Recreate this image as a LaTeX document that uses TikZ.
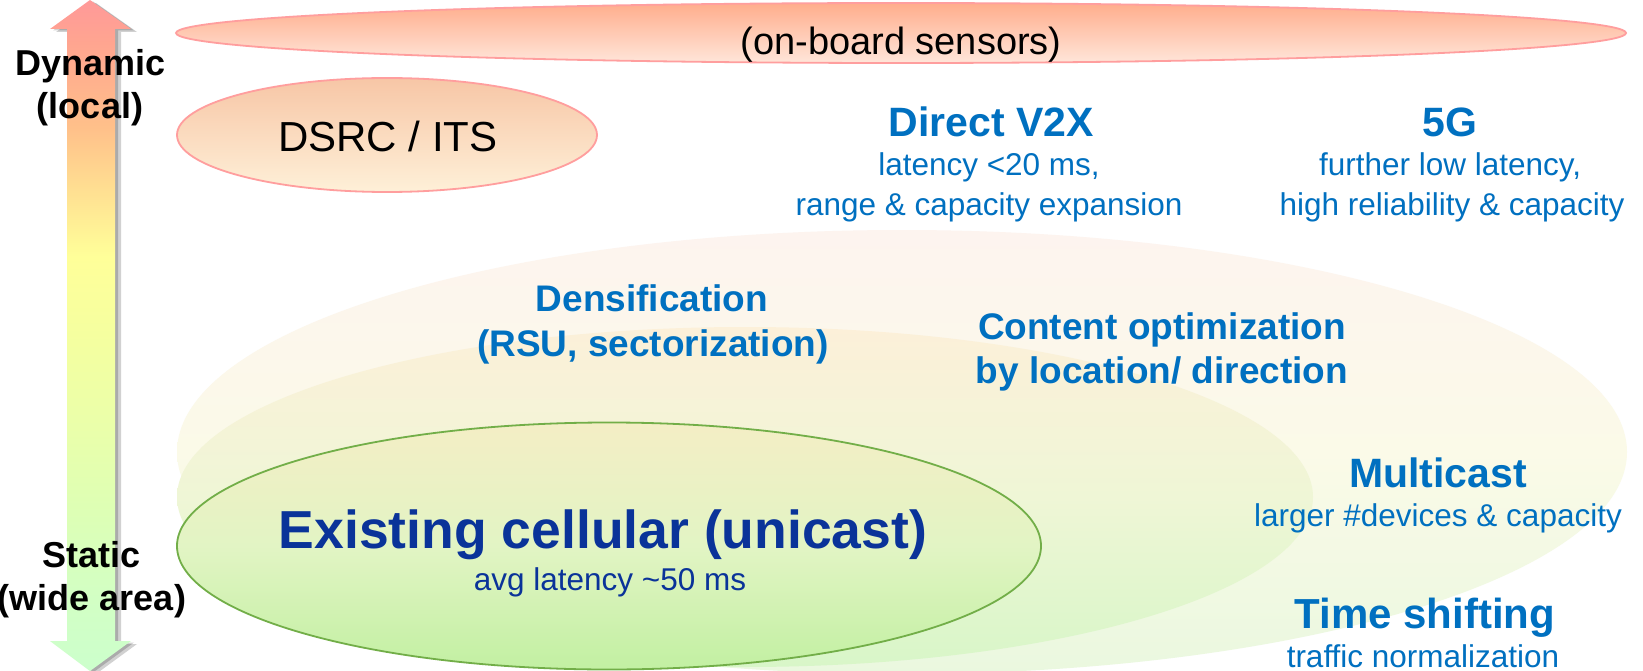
\documentclass[tikz,border=0pt]{standalone}
\usepackage{fontspec}
\setmainfont{Liberation Sans}
\usetikzlibrary{shapes.geometric}
\definecolor{tblue}{HTML}{0070C0}
\definecolor{dblue}{HTML}{0A3399}
\definecolor{pinkline}{HTML}{FF9E9E}
\definecolor{greenline}{HTML}{72AE48}
\definecolor{ag1}{HTML}{CCFFCC}
\definecolor{ag2}{HTML}{D2FFC4}
\definecolor{ag3}{HTML}{DDFFB5}
\definecolor{ag4}{HTML}{EAFFAA}
\definecolor{ag5}{HTML}{F4FFA0}
\definecolor{ag6}{HTML}{FFFF99}
\definecolor{ag7}{HTML}{FFE092}
\definecolor{ag8}{HTML}{FFC08A}
\definecolor{ag9}{HTML}{FFA590}
\definecolor{ag10}{HTML}{FF9999}
\pgfdeclareverticalshading{arrowshade}{100bp}{color(0bp)=(ag1); color(25bp)=(ag1); color(30.4bp)=(ag2); color(36.8bp)=(ag3); color(43.2bp)=(ag4); color(49.5bp)=(ag5); color(55.9bp)=(ag6); color(60.7bp)=(ag7); color(65.5bp)=(ag8); color(71.8bp)=(ag9); color(75bp)=(ag10); color(100bp)=(ag10)}
\tikzset{
  bigell/.style={ellipse, inner sep=0pt, draw=none},
  axislbl/.style={font=\fontsize{36}{40}\selectfont\bfseries, text=black, anchor=base, inner sep=0pt},
  subtxt/.style={font=\fontsize{31.5}{36}\selectfont, text=tblue, anchor=base, inner sep=0pt},
  ttltxt/.style={font=\fontsize{41}{46}\selectfont\bfseries, text=tblue, anchor=base, inner sep=0pt},
  midtxt/.style={font=\fontsize{37}{42}\selectfont\bfseries, text=tblue, anchor=base, inner sep=0pt},
}
\begin{document}
\begin{tikzpicture}[x=1pt,y=-1pt]
\useasboundingbox[fill=white] (0,0) rectangle (1643,671);

% background ellipses
\node[bigell, minimum width=1450pt, minimum height=444pt,
  top color={rgb,255:red,253;green,244;blue,239}, bottom color={rgb,255:red,234;green,248;blue,223},
  middle color={rgb,255:red,251;green,250;blue,232}] (outer) at (902,452) {};
\node[bigell, minimum width=1136pt, minimum height=340pt,
  top color={rgb,255:red,252;green,240;blue,217}, bottom color={rgb,255:red,216;green,246;blue,200},
  middle color={rgb,255:red,239;green,246;blue,214}] (middle) at (745,497) {};
\node[ellipse, inner sep=0pt, minimum width=864pt, minimum height=247pt, draw=greenline, line width=1.8pt,
  top color={rgb,255:red,244;green,238;blue,197}, bottom color={rgb,255:red,194;green,240;blue,162},
  middle color={rgb,255:red,226;green,244;blue,196}] (cell) at (609,546) {};

% top ellipses
\node[ellipse, inner sep=0pt, minimum width=1450pt, minimum height=60pt, draw=pinkline, line width=1.8pt,
  top color={rgb,255:red,255;green,173;blue,140}, bottom color={rgb,255:red,255;green,230;blue,218}] (sens) at (901,33) {};
\node[ellipse, inner sep=0pt, minimum width=420pt, minimum height=114pt, draw=pinkline, line width=1.8pt,
  top color={rgb,255:red,247;green,198;blue,166}, bottom color={rgb,255:red,254;green,240;blue,216}] (dsrc) at (387,135) {};

% double arrow with shadow
\begin{scope}[shift={(6,3)}]
\fill[black, opacity=0.18] (90,0) -- (131,29) -- (115,29) -- (115,641) -- (131,641) -- (90,671) -- (50,641) -- (67,641) -- (67,29) -- (50,29) -- cycle;
\end{scope}
\begin{scope}[shift={(3,1.5)}]
\fill[black, opacity=0.18] (90,0) -- (131,29) -- (115,29) -- (115,641) -- (131,641) -- (90,671) -- (50,641) -- (67,641) -- (67,29) -- (50,29) -- cycle;
\end{scope}
\shade[shading=arrowshade] (90,0) -- (131,29) -- (115,29) -- (115,641) -- (131,641) -- (90,671) -- (50,641) -- (67,641) -- (67,29) -- (50,29) -- cycle;

% axis labels
\node[axislbl] (dyn) at (91,76) {Dynamic};
\node[axislbl] (loc) at (90,119) {(local)};
\node[axislbl] (stat) at (92,567) {Static};
\node[axislbl] (wide) at (92,610) {(wide area)};

% texts in ellipses
\node[font=\fontsize{38}{42}\selectfont, anchor=base, inner sep=0pt] (senst) at (901,55) {(on-board sensors)};
\node[font=\fontsize{42}{46}\selectfont, anchor=base, inner sep=0pt] (dsrct) at (388,152) {DSRC / ITS};

% Direct V2X
\node[ttltxt] (v2x) at (991,137) {Direct V2X};
\node[subtxt] (v2xa) at (989,176) {latency <20 ms,};
\node[subtxt] (v2xb) at (989,215) {range \& capacity expansion};

% 5G
\node[ttltxt] (fiveg) at (1450,137) {5G};
\node[subtxt] (fga) at (1450,176) {further low latency,};
\node[subtxt] (fgb) at (1452,215) {high reliability \& capacity};

% Densification
\node[midtxt] (dens) at (652,311) {Densification};
\node[midtxt] (densb) at (653,356) {(RSU, sectorization)};

% Content optimization
\node[midtxt] (cont) at (1162,339) {Content optimization};
\node[midtxt] (contb) at (1162,383) {by location/ direction};

% Multicast
\node[ttltxt] (mc) at (1438,487) {Multicast};
\node[subtxt] (mcb) at (1438,526) {larger \#devices \& capacity};

% Time shifting
\node[ttltxt, font=\fontsize{42}{46}\selectfont\bfseries] (ts) at (1425,628) {Time shifting};
\node[subtxt] (tsb) at (1423,667) {traffic normalization};

% Existing cellular
\node[font=\fontsize{53.5}{58}\selectfont\bfseries, text=dblue, anchor=base, inner sep=0pt] (exist) at (603,548) {Existing cellular (unicast)};
\node[subtxt, text=dblue] (existb) at (610,590) {avg latency \textasciitilde 50 ms};
\end{tikzpicture}
\end{document}
